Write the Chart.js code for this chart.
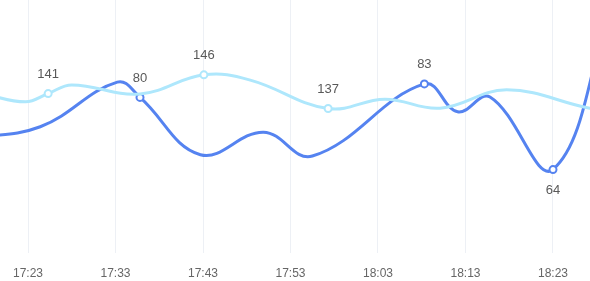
<!DOCTYPE html>
<html>
<head>
<meta charset="utf-8">
<script src="https://cdn.jsdelivr.net/npm/chart.js@4/dist/chart.umd.min.js"></script>
<style>
  html, body { margin: 0; padding: 0; background: #fff; }
  #wrap { width: 590px; height: 281px; }
</style>
</head>
<body>
<div id="wrap"><canvas id="chart"></canvas></div>
<script>
// minutes after 17:00
const lightTimes  = [17.5, 22.7, 25.3, 28.0, 35.8, 43.1, 48.4, 57.3, 63.8, 70.1, 77.7, 87.2, 91.8];
const lightValues = [141.2, 138.8, 141, 143.3, 140.9, 146, 144.6, 137, 139.5, 137.1, 142.0, 137.1, 135.8];
const lightLabels = [2, 5, 7]; // indexes that get a marker + value

const darkTimes  = [16.4, 24.4, 33.2, 35.8, 42.7, 49.9, 55.5, 68.3, 72.1, 75.8, 83.0, 90.0];
const darkValues = [71.0, 73.5, 83.4, 80, 67.3, 72.3, 67.0, 83, 76.8, 80.1, 64, 103.8];
const darkLabels = [3, 7, 10];
const darkLabelBelow = [10];

const tickMinutes = [23, 33, 43, 53, 63, 73, 83];
const tickLabels  = ['17:23', '17:33', '17:43', '17:53', '18:03', '18:13', '18:23'];

const LIGHT = '#aee7fc';
const DARK  = '#5583f0';

function toPoints(times, values) {
  return times.map((t, i) => ({ x: t, y: values[i] }));
}

const valueLabels = {
  id: 'valueLabels',
  afterDatasetsDraw(chart) {
    const ctx = chart.ctx;
    ctx.save();
    ctx.font = '13px "Liberation Sans", Arial, sans-serif';
    ctx.fillStyle = '#595959';
    ctx.textAlign = 'center';
    ctx.textBaseline = 'middle';
    chart.data.datasets.forEach((ds, di) => {
      const meta = chart.getDatasetMeta(di);
      ds.labelIdx.forEach(i => {
        const el = meta.data[i];
        const below = ds.below.includes(i);
        ctx.fillText(String(ds.data[i].y), el.x, below ? el.y + 21 : el.y - 19);
      });
    });
    ctx.restore();
  }
};

new Chart(document.getElementById('chart'), {
  type: 'line',
  data: {
    datasets: [
      {
        data: toPoints(lightTimes, lightValues),
        yAxisID: 'yLight',
        borderColor: LIGHT,
        borderWidth: 3,
        tension: 0.4,
        pointRadius: ctx => lightLabels.includes(ctx.dataIndex) ? 3.5 : 0,
        pointBackgroundColor: '#fff',
        pointBorderColor: LIGHT,
        pointBorderWidth: 2,
        labelIdx: lightLabels,
        below: []
      },
      {
        data: toPoints(darkTimes, darkValues),
        yAxisID: 'yDark',
        borderColor: DARK,
        borderWidth: 3,
        tension: 0.4,
        pointRadius: ctx => darkLabels.includes(ctx.dataIndex) ? 3.5 : 0,
        pointBackgroundColor: '#fff',
        pointBorderColor: DARK,
        pointBorderWidth: 2,
        labelIdx: darkLabels,
        below: darkLabelBelow
      }
    ]
  },
  options: {
    responsive: true,
    maintainAspectRatio: false,
    animation: false,
    layout: { padding: 0 },
    plugins: { legend: { display: false }, tooltip: { enabled: false } },
    scales: {
      x: {
        type: 'linear',
        min: 19.8,
        max: 87.23,
        afterBuildTicks: scale => { scale.ticks = tickMinutes.map(v => ({ value: v })); },
        afterFit: scale => { scale.height = 28; },
        grid: { color: '#edf0f5', drawTicks: false },
        border: { display: false },
        ticks: {
          padding: 13,
          color: '#666',
          font: { size: 12, family: '"Liberation Sans", Arial, sans-serif' },
          callback: v => tickLabels[tickMinutes.indexOf(v)]
        }
      },
      yLight: { display: false, min: 98.4, max: 166.0 },
      yDark:  { display: false, min: 45.5, max: 101.6 }
    }
  },
  plugins: [valueLabels]
});
</script>
</body>
</html>
